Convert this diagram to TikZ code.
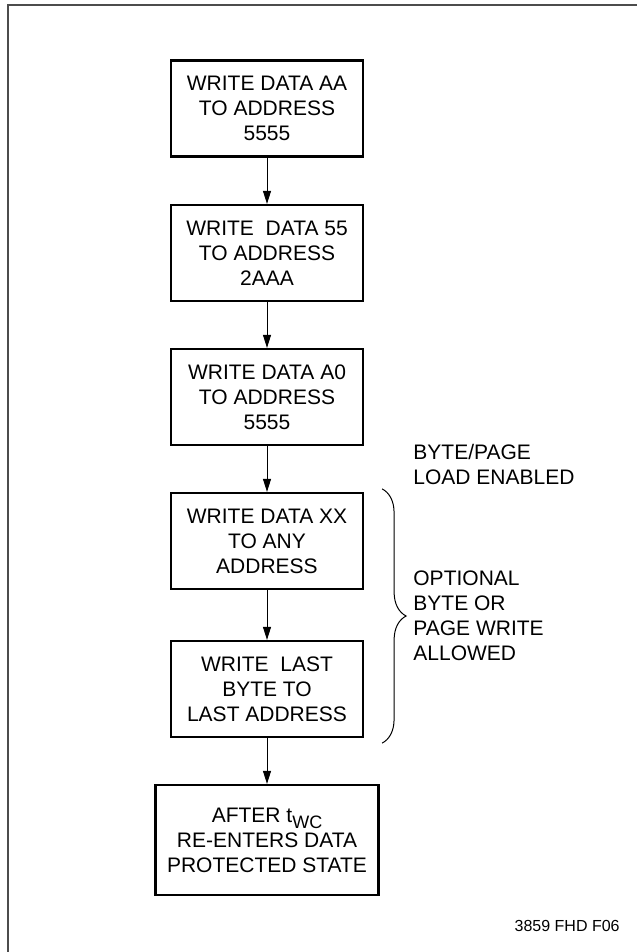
\documentclass[tikz,border=0pt]{standalone}
\usepackage{fontspec}
\setmainfont{Liberation Sans}
\usetikzlibrary{arrows.meta,decorations.pathreplacing}
\begin{document}
\begin{tikzpicture}[x=0.5pt,y=-0.5pt,
    box/.style={draw,line width=1.1pt,minimum width=96pt,minimum height=48pt,
      align=center,inner sep=0pt,font=\fontsize{10.5}{12.5}\selectfont},
    pfeil/.style={-{Triangle[length=6.5pt,width=4pt]},line width=0.5pt},
    txt/.style={align=left,inner sep=0pt,font=\fontsize{10.5}{12.5}\selectfont}]
    \useasboundingbox (0,0) rectangle (637,952);
    % frame
    \draw [line width=0.75pt,black!70] (8,952)--(8,5)--(637,5);
    % boxes
    \node[box] (wr1) at (267,108.5) {WRITE DATA AA\\TO ADDRESS\\5555};
    \node[box] (wr2) at (267,253) {WRITE\ \ DATA 55\\TO ADDRESS\\2AAA};
    \node[box] (wr3) at (267,397) {WRITE DATA A0\\TO ADDRESS\\5555};
    \node[box] (wr4) at (267,541) {WRITE DATA XX\\TO ANY\\ADDRESS};
    \node[box] (wr5) at (267,689) {WRITE\ \ LAST\\BYTE TO\\LAST ADDRESS};
    \node[box,minimum width=111.5pt,minimum height=55pt] (wr6) at (267,840)
      {AFTER t\raisebox{-0.55ex}{\fontsize{9}{10}\selectfont WC}\\RE-ENTERS DATA\\PROTECTED STATE};
    % arrows
    \draw [pfeil] (wr1)--(wr2);
    \draw [pfeil] (wr2)--(wr3);
    \draw [pfeil] (wr3)--(wr4);
    \draw [pfeil] (wr4)--(wr5);
    \draw [pfeil] (wr5)--(wr6);
    % brace
    \draw [decorate,decoration={brace,amplitude=12pt},line width=0.5pt]
      ([xshift=9pt,yshift=1.5pt]wr4.north east) -- ([xshift=9pt,yshift=-2.5pt]wr5.south east);
    \node[txt,anchor=west] (enab) at (413,464) {BYTE/PAGE\\LOAD ENABLED};
    \node[txt,anchor=west] (opt) at (413,616) {OPTIONAL\\BYTE OR\\PAGE WRITE\\ALLOWED};
    \node[inner sep=0pt,anchor=base east,font=\fontsize{8}{10}\selectfont] (fig) at (620,931) {3859 FHD F06};
  \end{tikzpicture}
\end{document}
